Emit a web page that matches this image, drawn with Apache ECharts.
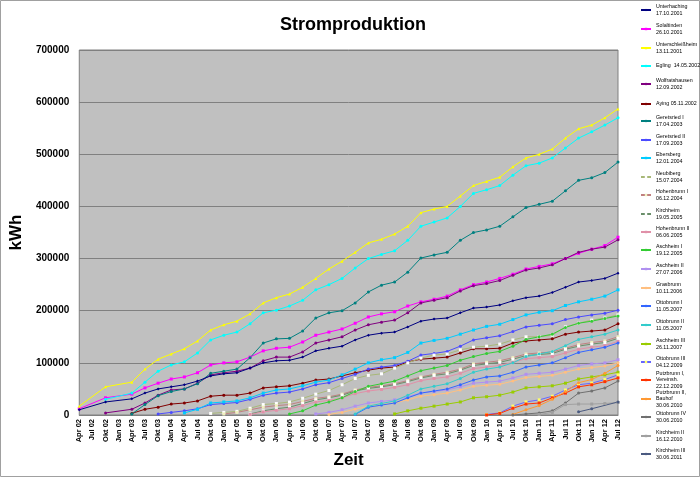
<!DOCTYPE html>
<html><head><meta charset="utf-8">
<script src="https://cdn.jsdelivr.net/npm/echarts@6/dist/echarts.min.js"></script>
<style>html,body{margin:0;padding:0;background:#fff}#c{width:700px;height:477px}</style>
</head><body><div id="c"></div>
<script>
const quarters = ["Apr 02","Jul 02","Okt 02","Jan 03","Apr 03","Jul 03","Okt 03","Jan 04","Apr 04","Jul 04","Okt 04","Jan 05","Apr 05","Jul 05","Okt 05","Jan 06","Apr 06","Jul 06","Okt 06","Jan 07","Apr 07","Jul 07","Okt 07","Jan 08","Apr 08","Jul 08","Okt 08","Jan 09","Apr 09","Jul 09","Okt 09","Jan 10","Apr 10","Jul 10","Okt 10","Jan 11","Apr 11","Jul 11","Okt 11","Jan 12","Apr 12","Jul 12"];

const plantNames = ["Unterhaching\n17.10.2001","Solaltinden\n26.10.2001","Unterschleißheim\n13.11.2001","Egling  14.05.2002","Wolfratshausen\n12.09.2002","Aying 05.11.2002","Geretsried I\n17.04.2003","Geretsried II\n17.09.2003","Ebersberg\n12.01.2004","Neubiberg\n15.07.2004","Hohenbrunn I\n06.12.2004","Kirchheim\n19.05.2005","Hohenbrunn II\n06.06.2005","Aschheim I\n19.12.2005","Aschheim II\n27.07.2006","Grasbrunn\n10.11.2006","Ottobrunn I\n11.05.2007","Ottobrunn II\n11.05.2007","Aschheim III\n26.11.2007","Ottobrunn III\n04.12.2009","Putzbrunn I,\nVereinsh.\n22.12.2009","Putzbrunn II,\nBauhof\n30.06.2010","Ottobrunn IV\n30.06.2010","Kirchheim II\n16.12.2010","Kirchheim III\n30.06.2011"];

const unterhaching = [10000,null,25000,null,31000,42000,50000,54000,58000,65000,75000,79000,81000,90000,100000,104000,105000,111000,123000,128000,132000,144000,153000,157000,159000,169000,180000,184000,186000,196000,205000,207000,211000,219000,225000,228000,235000,245000,255000,258000,262000,272000];
const solaltinden = [12000,null,33000,null,40000,52000,61000,69000,73000,81000,96000,100000,102000,111000,123000,128000,130000,140000,153000,159000,165000,176000,188000,194000,198000,209000,217000,222000,228000,240000,250000,255000,262000,270000,280000,285000,290000,300000,310000,318000,325000,341000];
const unterschleissheim = [17000,null,54000,null,63000,88000,107000,117000,127000,142000,163000,173000,180000,194000,215000,225000,232000,245000,262000,280000,295000,312000,330000,337000,347000,362000,388000,395000,400000,420000,440000,448000,456000,476000,493000,500000,510000,531000,549000,556000,570000,587000];
const egling = [null,null,30000,null,42000,63000,84000,96000,102000,119000,144000,153000,159000,175000,196000,201000,209000,220000,240000,250000,262000,282000,300000,308000,315000,335000,362000,370000,378000,400000,425000,432000,440000,460000,478000,483000,493000,512000,531000,543000,556000,570000];
const wolfratshausen = [null,null,4000,null,11000,23000,38000,48000,50000,61000,77000,81000,84000,90000,104000,111000,111000,121000,138000,144000,150000,163000,173000,178000,182000,196000,215000,220000,225000,238000,248000,252000,258000,268000,278000,282000,288000,300000,312000,318000,322000,336000];
const aying = [null,null,null,null,3000,11000,15000,21000,23000,27000,36000,38000,38000,42000,52000,54000,56000,61000,67000,69000,75000,81000,86000,90000,92000,102000,107000,109000,111000,119000,127000,127000,128000,138000,142000,144000,146000,155000,159000,161000,163000,175000];
const geretsried1 = [null,null,null,null,2000,20000,37000,45000,50000,60000,80000,84000,88000,110000,138000,146000,147000,161000,186000,196000,200000,215000,236000,249000,255000,274000,301000,307000,312000,335000,350000,355000,362000,380000,398000,404000,410000,430000,450000,455000,465000,485000];
const geretsried2 = [null,null,null,null,null,null,2000,5000,8000,12000,20000,22000,24000,30000,38000,42000,44000,50000,58000,62000,70000,78000,88000,92000,95000,103000,115000,118000,122000,132000,144000,148000,152000,160000,169000,172000,175000,183000,188000,192000,195000,201000];
const ebersberg = [null,null,null,null,null,null,null,null,4000,11000,23000,25000,27000,33000,42000,48000,50000,56000,63000,67000,77000,88000,100000,106000,110000,120000,138000,143000,147000,155000,163000,170000,174000,183000,192000,197000,200000,210000,217000,222000,228000,240000];
const neubiberg = [null,null,null,null,null,null,null,null,null,null,3000,5000,7000,13000,20000,22000,25000,32000,40000,47000,58000,70000,76000,79000,90000,100000,109000,115000,117000,125000,130000,132000,136000,144000,150000,150000,153000,169000,176000,182000,186000,192000];
const hohenbrunn1 = [null,null,null,null,null,null,null,null,null,null,null,2000,5000,10000,15000,18000,20000,26000,32000,35000,40000,48000,53000,56000,60000,66000,73000,78000,82000,88000,98000,101000,104000,110000,117000,119000,121000,128000,135000,139000,142000,150000];
const kirchheim = [null,null,null,null,null,null,null,null,null,null,null,null,null,2000,8000,12000,15000,22000,29000,33000,38000,46000,51000,54000,58000,64000,71000,76000,79000,86000,95000,98000,101000,107000,114000,116000,118000,126000,132000,136000,139000,147000];
const hohenbrunn2 = [null,null,null,null,null,null,null,null,null,null,null,null,null,1000,6000,9000,12000,18000,25000,28000,33000,41000,46000,49000,53000,58000,66000,70000,73000,80000,89000,92000,95000,101000,108000,110000,112000,119000,126000,130000,133000,141000];
const aschheim1 = [null,null,null,null,null,null,null,null,null,null,null,null,null,null,null,null,2000,8000,19000,25000,33000,45000,55000,60000,65000,75000,85000,90000,95000,105000,112000,118000,122000,132000,145000,150000,155000,168000,176000,180000,185000,190000];
const aschheim2 = [null,null,null,null,null,null,null,null,null,null,null,null,null,null,null,null,null,null,2000,5000,10000,17000,23000,26000,29000,35000,42000,45000,48000,54000,61000,63000,65000,71000,78000,80000,82000,88000,95000,98000,100000,106000];
const grasbrunn = [null,null,null,null,null,null,null,null,null,null,null,null,null,null,null,null,null,null,null,1000,5000,11000,17000,20000,23000,29000,36000,39000,42000,48000,55000,57000,59000,65000,72000,74000,76000,82000,88000,91000,94000,100000];
const ottobrunn1 = [null,null,null,null,null,null,null,null,null,null,null,null,null,null,null,null,null,null,null,null,null,1000,15000,19000,23000,33000,42000,46000,50000,58000,67000,73000,75000,82000,92000,96000,100000,110000,120000,125000,130000,138000];
const ottobrunn2 = [null,null,null,null,null,null,null,null,null,null,null,null,null,null,null,null,null,null,null,null,null,2000,17000,22000,27000,38000,50000,55000,60000,70000,82000,88000,92000,100000,112000,117000,122000,133000,145000,150000,155000,163000];
const aschheim3 = [null,null,null,null,null,null,null,null,null,null,null,null,null,null,null,null,null,null,null,null,null,null,null,null,2000,8000,13000,17000,21000,25000,33000,35000,38000,44000,52000,54000,56000,61000,69000,73000,77000,82000];
const ottobrunn3 = [null,null,null,null,null,null,null,null,null,null,null,null,null,null,null,null,null,null,null,null,null,null,null,null,null,null,null,null,null,null,null,1000,4000,17000,25000,29000,36000,48000,58000,61000,68000,77000];
const putzbrunn1 = [null,null,null,null,null,null,null,null,null,null,null,null,null,null,null,null,null,null,null,null,null,null,null,null,null,null,null,null,null,null,null,0,3000,13000,21000,23000,33000,42000,54000,58000,64000,71000];
const putzbrunn2 = [null,null,null,null,null,null,null,null,null,null,null,null,null,null,null,null,null,null,null,null,null,null,null,null,null,null,null,null,null,null,null,null,null,1000,10000,18000,30000,45000,62000,68000,80000,95000];
const ottobrunn4 = [null,null,null,null,null,null,null,null,null,null,null,null,null,null,null,null,null,null,null,null,null,null,null,null,null,null,null,null,null,null,null,null,null,0,2000,4000,8000,23000,42000,46000,52000,65000];
const kirchheim2 = [null,null,null,null,null,null,null,null,null,null,null,null,null,null,null,null,null,null,null,null,null,null,null,null,null,null,null,null,null,null,null,null,null,null,null,1000,5000,20000,21000,21000,22000,24000];
const kirchheim3 = [null,null,null,null,null,null,null,null,null,null,null,null,null,null,null,null,null,null,null,null,null,null,null,null,null,null,null,null,null,null,null,null,null,null,null,null,null,null,6000,12000,null,25000];

const allData = [unterhaching,solaltinden,unterschleissheim,egling,wolfratshausen,aying,geretsried1,geretsried2,ebersberg,neubiberg,hohenbrunn1,kirchheim,hohenbrunn2,aschheim1,aschheim2,grasbrunn,ottobrunn1,ottobrunn2,aschheim3,ottobrunn3,putzbrunn1,putzbrunn2,ottobrunn4,kirchheim2,kirchheim3];

// styles (kept separate from data)
const styles = [
  {c:'#000080', s:'diamond', z:4},
  {c:'#FF00FF', s:'rect', z:3},
  {c:'#FFFF00', s:'triangle', z:3},
  {c:'#00FFFF', s:'circle', z:3},
  {c:'#800080', s:'circle', z:3},
  {c:'#800000', s:'circle', z:3},
  {c:'#008080', s:'circle', z:3},
  {c:'#4B4BFF', s:'circle', z:3},
  {c:'#00CCFF', s:'rect', z:3},
  {c:'#A8B878', s:'rect', m:'#FFFFFF', z:3},
  {c:'#C08080', s:'rect', m:'#F0F0C0', z:3},
  {c:'#6A8F6A', s:'rect', m:'#FFFFFF', z:3},
  {c:'#E090A8', s:'rect', z:3},
  {c:'#33CC33', s:'circle', z:3},
  {c:'#B090F0', s:'rect', z:3},
  {c:'#FFBF80', s:'circle', z:3},
  {c:'#3366FF', s:'circle', z:3},
  {c:'#33CCCC', s:'circle', z:3},
  {c:'#99CC00', s:'rect', z:3},
  {c:'#6666FF', s:'rect', m:'#FFFF66', z:3},
  {c:'#FF3300', s:'rect', z:3},
  {c:'#FF9933', s:'circle', z:3},
  {c:'#707070', s:'circle', z:3},
  {c:'#A0A0A0', s:'rect', z:3},
  {c:'#4A5A80', s:'circle', z:3}
];
const legendCenters = [10,29,48,66,84,104,121,140,158,177,195,214,232,250,269,288,306,325,344,362,380,399,417,436,454];

const LH = 6.2;
const series = [];
const legends = [];
plantNames.forEach((name, i) => {
  const st = styles[i];
  series.push({
    type:'line', name:name, data: allData[i], connectNulls:true,
    symbol: st.s, symbolSize: 3, showSymbol:true,
    lineStyle:{width:1, color:st.c},
    itemStyle:{color: st.m || st.c, borderWidth:0},
    z: st.z, animation:false
  });
  const n = name.split('\n').length;
  legends.push({
    data:[name], left:640, top: legendCenters[i] - (2*n-1)*LH/2,
    orient:'vertical', padding:0, itemWidth:10, itemHeight:3, itemGap:0,
    selectedMode:false,
    textStyle:{fontFamily:'Liberation Sans', fontSize:5.3, lineHeight:LH, color:'#000', padding:[(n-1)*LH,0,0,0]}
  });
});

const chart = echarts.init(document.getElementById('c'), null, {renderer:'canvas'});
chart.setOption({
  animation:false,
  backgroundColor:'#ffffff',
  title:{text:'Stromproduktion', left:348, top:11, textAlign:'center',
    textStyle:{fontFamily:'Liberation Sans', fontSize:18, fontWeight:'bold', color:'#000'}},
  legend: legends,
  grid:{left:77, right:82, top:50, bottom:62, show:true, backgroundColor:'#C0C0C0', borderColor:'#808080', borderWidth:1},
  xAxis:{type:'category', data:quarters, boundaryGap:false,
    name:'Zeit', nameLocation:'middle', nameGap:37,
    nameTextStyle:{fontFamily:'Liberation Sans', fontSize:17, fontWeight:'bold', color:'#000'},
    axisLine:{show:true, lineStyle:{color:'#808080'}}, axisTick:{show:false},
    axisLabel:{interval:0, rotate:90, fontFamily:'Liberation Sans', fontSize:7.5, fontWeight:'bold', color:'#000', margin:4}},
  yAxis:{type:'value', min:0, max:700000, interval:100000,
    name:'kWh', nameLocation:'middle', nameGap:42,
    nameTextStyle:{fontFamily:'Liberation Sans', fontSize:17, fontWeight:'bold', color:'#000'},
    axisLine:{show:false}, axisTick:{show:false},
    splitLine:{lineStyle:{color:'#808080', width:1}},
    axisLabel:{fontFamily:'Liberation Sans', fontSize:10, fontWeight:'bold', color:'#000', margin:10,
      formatter: v => String(v)}},
  graphic:[{type:'rect', shape:{x:0.5,y:0.5,width:699,height:476}, style:{fill:'none', stroke:'#A0A0A0', lineWidth:1}, silent:true}],
  series: series
});
</script></body></html>
